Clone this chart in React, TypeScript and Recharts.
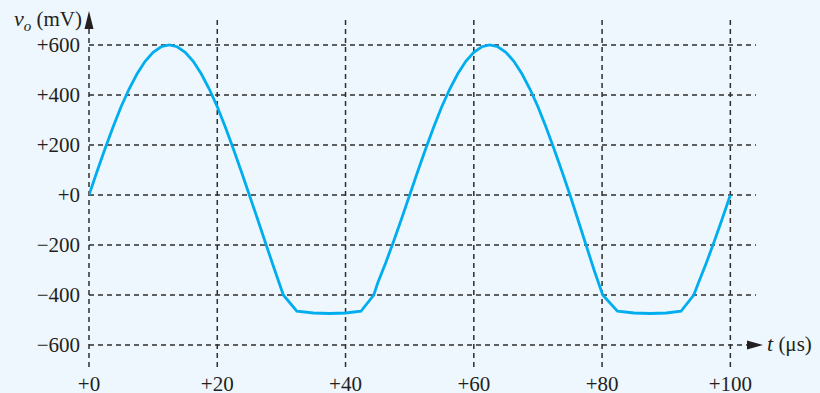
import React from "react";
import {
  LineChart,
  Line,
  XAxis,
  YAxis,
  CartesianGrid,
  ReferenceDot,
} from "recharts";

// time in microseconds, output voltage in mV
const times = [
  0, 1.25, 2.5, 3.75, 5, 6.25, 7.5, 8.75, 10, 11.25, 12.5, 13.75, 15, 16.25,
  17.5, 18.75, 20, 21.25, 22.5, 23.75, 25, 26.25, 27.5, 28.75, 30.3, 32.4, 35,
  37.5, 40, 42.4, 44.4, 45, 46.25, 47.5, 48.75, 50, 51.25, 52.5, 53.75, 55,
  56.25, 57.5, 58.75, 60, 61.25, 62.5, 63.75, 65, 66.25, 67.5, 68.75, 70,
  71.25, 72.5, 73.75, 75, 76.25, 77.5, 78.75, 80.1, 82.4, 85, 87.5, 90, 92.3,
  94.3, 95, 96.25, 97.5, 98.75, 100,
];
const voltages = [
  0, 94, 185, 272, 353, 424, 485, 535, 571, 593, 600, 593, 571, 535, 485, 424,
  353, 272, 185, 94, 0, -94, -190, -285, -400, -465, -472, -474, -472, -465,
  -400, -353, -272, -185, -94, 0, 94, 185, 272, 353, 424, 485, 535, 571, 593,
  600, 593, 571, 535, 485, 424, 353, 272, 185, 94, 0, -100, -200, -300, -400,
  -465, -472, -474, -472, -465, -400, -353, -272, -185, -94, 0,
];
const xTicks = [0, 20, 40, 60, 80, 100];
const yTicks = [-600, -400, -200, 0, 200, 400, 600];

const data = times.map((t, i) => ({ t, v: voltages[i] }));

const FONT = "'Liberation Serif', 'Times New Roman', serif";
const INK = "#231f20";

const signed = (n: number) => (n < 0 ? "\u2212" + Math.abs(n) : "+" + n);

const YTick = (props: any) => {
  const { x, y, payload } = props;
  return (
    <text x={x} y={y + 7} textAnchor="end" fontFamily={FONT} fontSize={21} fill={INK}>
      {signed(payload.value)}
    </text>
  );
};

const XTick = (props: any) => {
  const { x, y, payload } = props;
  return (
    <text x={x} y={y + 11} textAnchor="middle" fontFamily={FONT} fontSize={21} fill={INK}>
      {signed(payload.value)}
    </text>
  );
};

const UpArrow = (props: any) => {
  const { cx, cy } = props;
  return (
    <g>
      <polygon
        points={`${cx},${cy - 9} ${cx - 4.5},${cy + 9} ${cx + 4.5},${cy + 9}`}
        fill={INK}
      />
      <text x={cx - 7} y={cy + 6} textAnchor="end" fontFamily={FONT} fontSize={21} fill={INK}>
        <tspan fontStyle="italic" fontSize={22}>v</tspan>
        <tspan fontStyle="italic" fontSize={15} dy={5}>o</tspan>
        <tspan dy={-5}> (mV)</tspan>
      </text>
    </g>
  );
};

const RightArrow = (props: any) => {
  const { cx, cy } = props;
  return (
    <g>
      <polygon
        points={`${cx - 9},${cy - 4.5} ${cx + 7},${cy} ${cx - 9},${cy + 4.5}`}
        fill={INK}
      />
      <text x={cx + 11} y={cy + 6} fontFamily={FONT} fontSize={21} fill={INK}>
        <tspan fontStyle="italic" fontSize={22}>t</tspan>
        <tspan> (μs)</tspan>
      </text>
    </g>
  );
};

export default function App() {
  return (
    <div
      style={{
        position: "absolute",
        left: 0,
        top: 0,
        width: 820,
        height: 393,
        background: "#eef7fd",
      }}
    >
      <LineChart
        width={820}
        height={393}
        data={data}
        margin={{ top: 20, right: 64, left: 0, bottom: 0 }}
      >
        <CartesianGrid
          stroke="#2e2e2e"
          strokeWidth={1.5}
          strokeDasharray="5 4"
          syncWithTicks
        />
        <XAxis
          dataKey="t"
          type="number"
          domain={[0, 104]}
          ticks={xTicks}
          height={23}
          axisLine={false}
          tickLine={false}
          tickSize={0}
          tickMargin={10}
          tick={<XTick />}
          allowDataOverflow
        />
        <YAxis
          type="number"
          domain={[-700, 700]}
          ticks={yTicks}
          width={89}
          axisLine={false}
          tickLine={false}
          tickSize={0}
          tickMargin={9}
          tick={<YTick />}
          allowDataOverflow
        />
        <Line
          type="linear"
          dataKey="v"
          stroke="#00aeef"
          strokeWidth={2.8}
          dot={false}
          isAnimationActive={false}
        />
        <ReferenceDot x={0} y={700} r={0} shape={<UpArrow />} />
        <ReferenceDot x={104} y={-600} r={0} shape={<RightArrow />} />
      </LineChart>
    </div>
  );
}
